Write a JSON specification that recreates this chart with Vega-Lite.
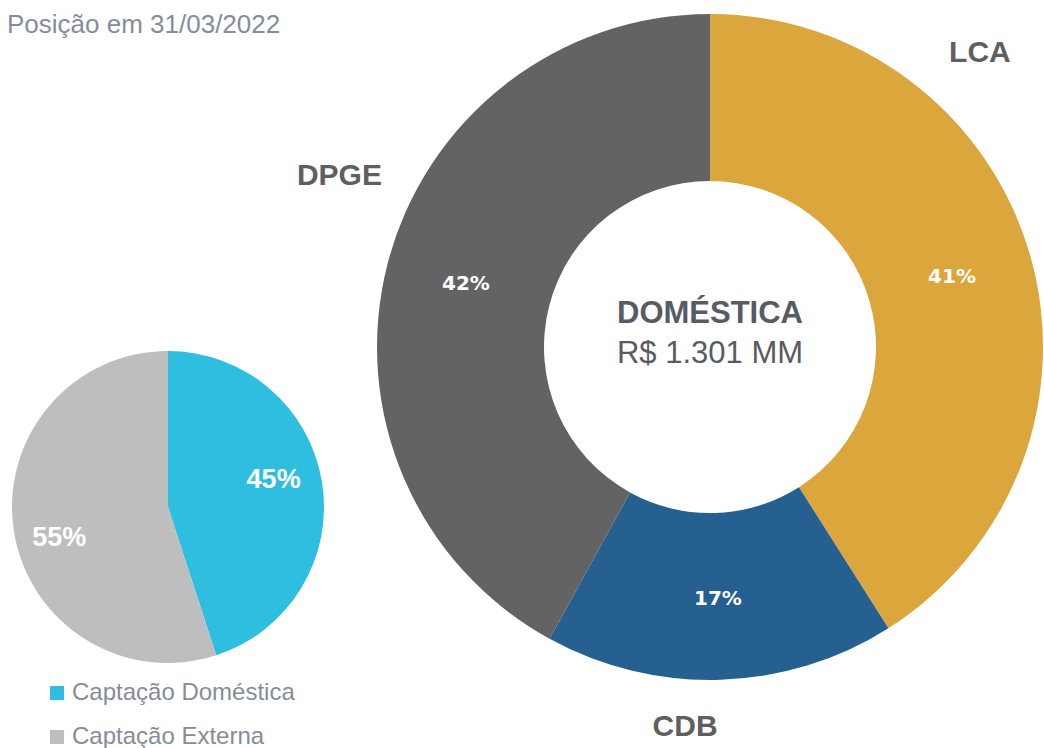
{
  "$schema": "https://vega.github.io/schema/vega-lite/v6.json",
  "padding": {"left": 7, "top": 12, "right": 0, "bottom": 0},
  "spacing": -33,
  "bounds": "full",
  "config": {"view": {"stroke": null}, "font": "Liberation Sans"},
  "resolve": {"scale": {"color": "independent", "theta": "independent"}, "legend": {"color": "independent"}},
  "hconcat": [
    {
      "width": 322,
      "height": 414,
      "title": {"text": "Posição em 31/03/2022", "anchor": "start", "frame": "group", "fontSize": 26, "fontWeight": "normal", "color": "#868d97", "font": "Liberation Sans", "offset": 262},
      "data": {"values": [
        {"captacao": "Captação Doméstica", "pct": 0.45, "ordem": 1},
        {"captacao": "Captação Externa", "pct": 0.55, "ordem": 2}
      ]},
      "layer": [
        {
          "mark": {"type": "arc", "outerRadius": 156},
          "encoding": {
            "theta": {"field": "pct", "type": "quantitative", "stack": true},
            "order": {"field": "ordem"},
            "color": {
              "field": "captacao", "type": "nominal",
              "scale": {"domain": ["Captação Doméstica", "Captação Externa"], "range": ["#2EBEE0", "#BEBEBE"]},
              "legend": {"orient": "none", "legendX": 38, "legendY": 381, "title": null, "direction": "vertical", "symbolType": "square", "symbolSize": 196, "symbolStrokeWidth": 0, "labelFontSize": 24, "labelColor": "#868d97", "labelFont": "Liberation Sans", "labelLimit": 0, "rowPadding": 20, "labelOffset": 3}
            }
          }
        },
        {
          "transform": [{"filter": "datum.captacao === 'Captação Doméstica'"}],
          "mark": {"type": "text", "radius": 109, "theta": 1.321, "font": "Liberation Sans", "fontWeight": "bold", "fontSize": 27, "color": "white"},
          "encoding": {"text": {"field": "pct", "format": ".0%"}}
        },
        {
          "transform": [{"filter": "datum.captacao === 'Captação Externa'"}],
          "mark": {"type": "text", "radius": 113, "theta": 4.435, "font": "Liberation Sans", "fontWeight": "bold", "fontSize": 27, "color": "white"},
          "encoding": {"text": {"field": "pct", "format": ".0%"}}
        }
      ]
    },
    {
      "width": 670,
      "height": 94,
      "data": {"values": [
        {"tipo": "LCA", "pct": 0.41, "ordem": 1},
        {"tipo": "CDB", "pct": 0.17, "ordem": 2},
        {"tipo": "DPGE", "pct": 0.42, "ordem": 3}
      ]},
      "layer": [
        {
          "mark": {"type": "arc", "outerRadius": 333, "innerRadius": 166},
          "encoding": {
            "theta": {"field": "pct", "type": "quantitative", "stack": true},
            "order": {"field": "ordem"},
            "color": {"field": "tipo", "type": "nominal", "scale": {"domain": ["LCA", "CDB", "DPGE"], "range": ["#DBA63B", "#256090", "#636363"]}, "legend": null}
          }
        },
        {
          "mark": {"type": "text", "radius": 252, "font": "DejaVu Sans", "fontWeight": "bold", "fontSize": 20, "color": "white"},
          "encoding": {
            "theta": {"field": "pct", "type": "quantitative", "stack": true},
            "order": {"field": "ordem"},
            "detail": {"field": "tipo"},
            "text": {"field": "pct", "format": ".0%"}
          }
        },
        {
          "transform": [{"filter": "datum.tipo === 'LCA'"}],
          "mark": {"type": "text", "radius": 399, "theta": 0.743, "fontWeight": "bold", "fontSize": 30, "color": "#5f5f5f"},
          "encoding": {"text": {"field": "tipo"}}
        },
        {
          "transform": [{"filter": "datum.tipo === 'CDB'"}],
          "mark": {"type": "text", "radius": 381, "theta": 3.207, "fontWeight": "bold", "fontSize": 30, "color": "#5f5f5f"},
          "encoding": {"text": {"field": "tipo"}}
        },
        {
          "transform": [{"filter": "datum.tipo === 'DPGE'"}],
          "mark": {"type": "text", "radius": 408, "theta": 5.144, "fontWeight": "bold", "fontSize": 30, "color": "#5f5f5f"},
          "encoding": {"text": {"field": "tipo"}}
        },
        {
          "data": {"values": [{"texto": "DOMÉSTICA"}]},
          "mark": {"type": "text", "baseline": "alphabetic", "dy": -24, "fontWeight": "bold", "fontSize": 31, "color": "#575c64"},
          "encoding": {"text": {"field": "texto"}}
        },
        {
          "data": {"values": [{"texto": "R$ 1.301 MM"}]},
          "mark": {"type": "text", "baseline": "alphabetic", "dy": 16, "fontWeight": "normal", "fontSize": 31, "color": "#575c64"},
          "encoding": {"text": {"field": "texto"}}
        }
      ]
    }
  ]
}
